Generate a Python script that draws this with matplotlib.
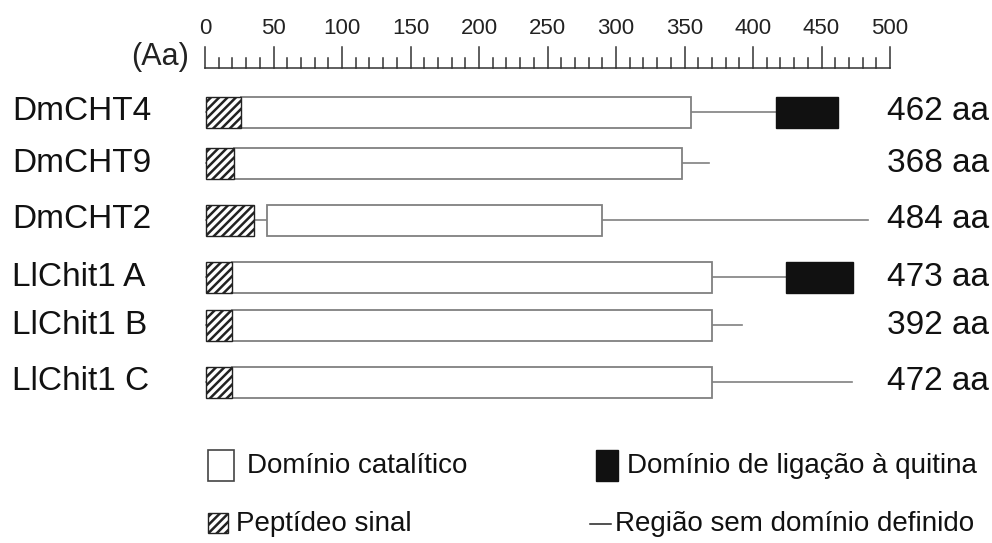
import matplotlib.pyplot as plt
import matplotlib.patches as mpatches

plt.rcParams['font.family'] = ['Liberation Sans', 'DejaVu Sans']
plt.rcParams['hatch.linewidth'] = 1.8

# protein names and domain boundaries (aa)
names = ['DmCHT4', 'DmCHT9', 'DmCHT2', 'LlChit1 A', 'LlChit1 B', 'LlChit1 C']
lengths = [462, 368, 484, 473, 392, 472]
signal_end = [26, 21, 36, 20, 20, 20]
cat_start = [26, 21, 45, 20, 20, 20]
cat_end = [355, 348, 290, 370, 370, 370]
cbd_start = [417, None, None, 424, None, None]
ruler_ticks = list(range(0, 501, 50))

# layout (figure pixels)
row_y = [112, 163, 220, 277, 325, 382]
bar_h = 31
px_per_aa = 1.37
x0_px = 205

fig = plt.figure(figsize=(9.92, 5.43), dpi=100)
ax = fig.add_axes([0, 0, 1, 1])
ax.set_xlim(-x0_px / px_per_aa, (992 - x0_px) / px_per_aa)
ax.set_ylim(543, 0)
ax.axis('off')

# ruler
ax.plot([0, 500], [68, 68], color='#333333', lw=1.1)
for t in range(0, 501, 10):
    top = 47 if t % 50 == 0 else 58
    ax.plot([t, t], [68, top], color='#333333', lw=1.1)
for t in ruler_ticks:
    ax.text(t, 29, str(t), ha='center', va='center', fontsize=16, color='#222222')
ax.text(-12, 57, '(Aa)', ha='right', va='center', fontsize=22, color='#222222')

gray = '#808080'
for i, name in enumerate(names):
    y = row_y[i]
    ax.plot([1, lengths[i]], [y, y], color=gray, lw=1.2, zorder=1)
    ax.add_patch(mpatches.Rectangle((cat_start[i], y - bar_h / 2), cat_end[i] - cat_start[i], bar_h,
                                    facecolor='white', edgecolor=gray, lw=1.3, zorder=2))
    ax.add_patch(mpatches.Rectangle((1, y - bar_h / 2), signal_end[i] - 1, bar_h,
                                    facecolor='white', edgecolor='#222222', hatch='////', lw=1, zorder=3))
    if cbd_start[i] is not None:
        ax.add_patch(mpatches.Rectangle((cbd_start[i], y - bar_h / 2), lengths[i] - cbd_start[i], bar_h,
                                        facecolor='#111111', edgecolor='#111111', lw=1, zorder=2))
    ax.text(-(x0_px - 12) / px_per_aa, y, name, ha='left', va='center', fontsize=24, color='#111111')
    ax.text(498, y, f'{lengths[i]} aa', ha='left', va='center', fontsize=24, color='#111111')

# legend
def px(x):
    return (x - x0_px) / px_per_aa

ax.add_patch(mpatches.Rectangle((px(208), 450), 26 / px_per_aa, 31,
                                facecolor='white', edgecolor='#444444', lw=1.2))
ax.text(px(247), 466, 'Domínio catalítico', ha='left', va='center', fontsize=20, color='#111111')
ax.add_patch(mpatches.Rectangle((px(596), 450), 22 / px_per_aa, 31,
                                facecolor='#111111', edgecolor='#111111', lw=1))
ax.text(px(627), 466, 'Domínio de ligação à quitina', ha='left', va='center', fontsize=20, color='#111111')
ax.add_patch(mpatches.Rectangle((px(208), 513), 20 / px_per_aa, 20,
                                facecolor='white', edgecolor='#222222', hatch='////', lw=1))
ax.text(px(236), 524, 'Peptídeo sinal', ha='left', va='center', fontsize=20, color='#111111')
ax.plot([px(590), px(611)], [524, 524], color='#222222', lw=1.1)
ax.text(px(615), 524, 'Região sem domínio definido', ha='left', va='center', fontsize=20, color='#111111')

fig.savefig('out.png', dpi=100)
plt.close(fig)
